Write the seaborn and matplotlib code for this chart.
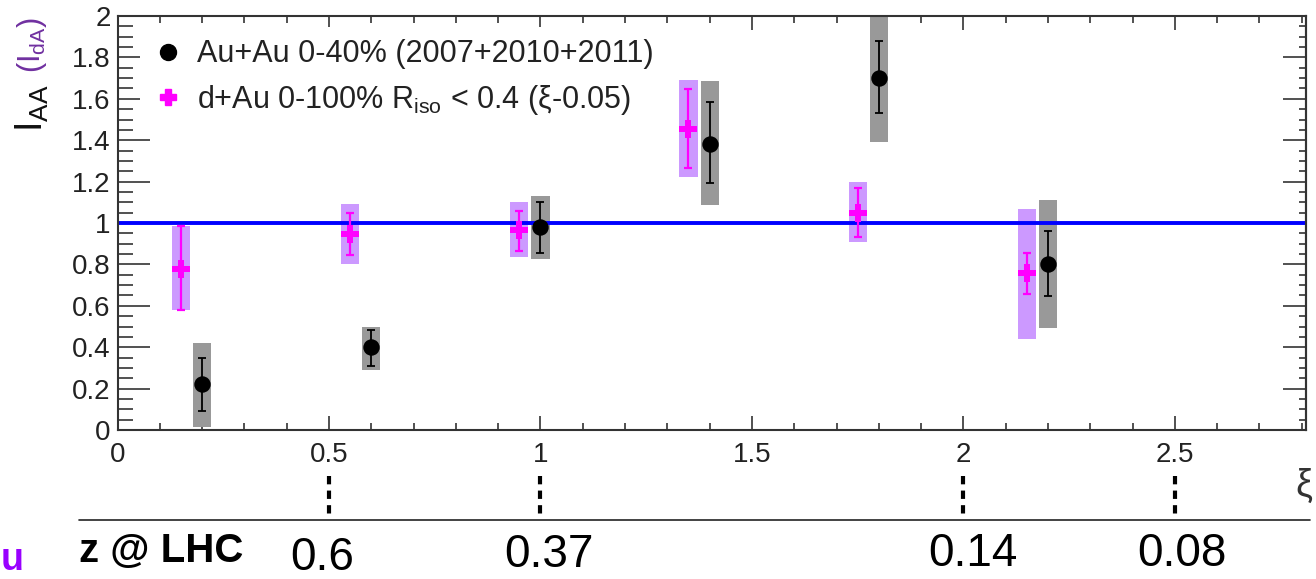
import numpy as np
import pandas as pd
import matplotlib
matplotlib.use("Agg")
import matplotlib.pyplot as plt
import matplotlib.transforms as mtransforms
from matplotlib.lines import Line2D
from matplotlib.ticker import MultipleLocator, FuncFormatter
import seaborn as sns

# ---------------- data ----------------
auau_xi = [0.2, 0.6, 1.0, 1.4, 1.8, 2.2]
auau_iaa = [0.22, 0.40, 0.98, 1.38, 1.70, 0.80]
auau_stat_lo = [0.09, 0.31, 0.854, 1.194, 1.53, 0.645]
auau_stat_hi = [0.35, 0.485, 1.10, 1.583, 1.88, 0.96]
auau_sys_lo = [0.015, 0.29, 0.825, 1.087, 1.39, 0.495]
auau_sys_hi = [0.42, 0.50, 1.13, 1.684, 2.05, 1.11]

dau_xi = [0.15, 0.55, 0.95, 1.35, 1.75, 2.15]
dau_idA = [0.78, 0.945, 0.966, 1.456, 1.05, 0.757]
dau_stat_lo = [0.58, 0.845, 0.864, 1.267, 0.93, 0.655]
dau_stat_hi = [0.985, 1.05, 1.06, 1.646, 1.17, 0.854]
dau_sys_lo = [0.58, 0.80, 0.835, 1.223, 0.907, 0.44]
dau_sys_hi = [0.985, 1.09, 1.10, 1.69, 1.20, 1.07]

ref_level = 1.0

lhc_xi = [0.5, 1.0, 2.0, 2.5]
lhc_z = ["0.6", "0.37", "0.14", "0.08"]

label_auau = "Au+Au 0-40% (2007+2010+2011)"
label_dau = "d+Au 0-100% R$_{\\mathrm{iso}}$ < 0.4 (\u03be-0.05)"

# ---------------- style ----------------
W, H = 1316, 579
sns.set_theme(style="ticks")
plt.rcParams["font.family"] = ["Liberation Sans", "DejaVu Sans"]
plt.rcParams["mathtext.fontset"] = "custom"
plt.rcParams["mathtext.rm"] = "Liberation Sans"
plt.rcParams["mathtext.it"] = "Liberation Sans:italic"
plt.rcParams["mathtext.bf"] = "Liberation Sans:bold"

fig = plt.figure(figsize=(W / 100, H / 100), dpi=100)
ax = fig.add_axes([117.5 / W, 1 - 430 / H, (1306 - 117.5) / W, (430 - 16) / H])

box_w = 0.043
grey_box = "#999999"
mag_box = "#cc99ff"
magenta = "#ff00ff"
axcol = "#333333"

# systematic boxes
ax.bar(auau_xi, np.subtract(auau_sys_hi, auau_sys_lo), bottom=auau_sys_lo,
       width=box_w, color=grey_box, linewidth=0, zorder=1)
ax.bar(dau_xi, np.subtract(dau_sys_hi, dau_sys_lo), bottom=dau_sys_lo,
       width=box_w, color=mag_box, linewidth=0, zorder=1)

# reference line
ax.axhline(ref_level, color="#0000ff", lw=2.8, zorder=2)

# statistical errors
ax.errorbar(auau_xi, auau_iaa,
            yerr=[np.subtract(auau_iaa, auau_stat_lo), np.subtract(auau_stat_hi, auau_iaa)],
            fmt="none", ecolor="black", elinewidth=1.3, capsize=2.6, capthick=1.3, zorder=3)
ax.errorbar(dau_xi, dau_idA,
            yerr=[np.subtract(dau_idA, dau_stat_lo), np.subtract(dau_stat_hi, dau_idA)],
            fmt="none", ecolor=magenta, elinewidth=1.6, capsize=2.6, capthick=1.6, zorder=3)

# markers via seaborn
df_auau = pd.DataFrame({"xi": auau_xi, "val": auau_iaa})
df_dau = pd.DataFrame({"xi": dau_xi, "val": dau_idA})
sns.scatterplot(data=df_auau, x="xi", y="val", marker="o", s=140, color="black",
                linewidth=0, ax=ax, zorder=5, legend=False)
sns.scatterplot(data=df_dau, x="xi", y="val", marker="P", s=150, color=magenta,
                linewidth=0, ax=ax, zorder=5, legend=False)

# axes
ax.set_xlim(0, 2.81)
ax.set_ylim(0, 2)
ax.set_xlabel("")
ax.set_ylabel("")
ax.xaxis.set_major_locator(MultipleLocator(0.5))
ax.xaxis.set_minor_locator(MultipleLocator(0.1))
ax.yaxis.set_major_locator(MultipleLocator(0.2))
ax.yaxis.set_minor_locator(MultipleLocator(0.05))
fmt = FuncFormatter(lambda v, p: f"{v:g}")
ax.xaxis.set_major_formatter(fmt)
ax.yaxis.set_major_formatter(fmt)
for s in ax.spines.values():
    s.set_visible(True)
    s.set_linewidth(1.5)
    s.set_color(axcol)

ax.tick_params(axis="x", which="major", direction="in", length=10, width=1.2,
               top=True, bottom=True, labelsize=20, pad=9, color=axcol, labelcolor="#222222")
ax.tick_params(axis="x", which="minor", direction="in", length=5, width=1.2,
               top=True, bottom=True, color=axcol)
ax.tick_params(axis="y", which="major", direction="in", length=23, width=1.2,
               left=True, right=False, labelsize=20, pad=5, color=axcol, labelcolor="#222222")
ax.tick_params(axis="y", which="minor", direction="in", length=11, width=1.2,
               left=True, right=False, color=axcol)

sec = ax.secondary_yaxis("right")
sec.yaxis.set_major_locator(MultipleLocator(0.2))
sec.yaxis.set_minor_locator(MultipleLocator(0.05))
sec.tick_params(which="major", direction="in", length=16.5, width=1.2, labelright=False, color=axcol)
sec.tick_params(which="minor", direction="in", length=5, width=1.2, color=axcol)
sec.spines["right"].set_linewidth(1.5)
sec.spines["right"].set_color(axcol)

# legend
handles = [Line2D([], [], marker="o", ls="none", color="black", ms=11.5),
           Line2D([], [], marker="P", ls="none", color=magenta, mec=magenta, ms=11)]
leg = ax.legend(handles, [label_auau, label_dau], loc="upper left",
                bbox_to_anchor=(140 / W, 1 - 27 / H), bbox_transform=fig.transFigure,
                fontsize=22, frameon=True, facecolor="white", edgecolor="none",
                framealpha=1, fancybox=False, borderpad=0.4, handlelength=1.0,
                handletextpad=0.45, labelspacing=0.45, borderaxespad=0)
for t in leg.get_texts():
    t.set_color("#222222")

# y label (two colours)
fig.text(32 / W, 1 - 132 / H, "$\\mathrm{I_{AA}}$", rotation=90, ha="center", va="bottom",
         fontsize=27, color="#111111")
fig.text(32 / W, 1 - 17 / H, "($\\mathrm{I_{dA}}$)", rotation=90, ha="center", va="top",
         fontsize=22, color="#7030a0")

# xi label
fig.text(1312 / W, 1 - 486 / H, "\u03be", ha="right", va="center", fontsize=27, color="#333333")

# LHC z correspondence below the axis
trans = mtransforms.blended_transform_factory(ax.transData, fig.transFigure)
for xi in lhc_xi:
    ax.plot([xi, xi], [1 - 476 / H, 1 - 516 / H], transform=trans, ls=(0, (2, 1.5)),
            lw=3, color="black", clip_on=False, solid_capstyle="butt", dash_capstyle="butt")
fig.add_artist(Line2D([79 / W, 1310 / W], [1 - 520 / H, 1 - 520 / H], color="#222222", lw=1.2))

z_dx = [-7, 8, 10, 7]
z_base = [570, 567, 566, 566]
for xi, lab, dx, base in zip(lhc_xi, lhc_z, z_dx, z_base):
    ax.annotate(lab, xy=(xi, 1 - base / H), xycoords=trans, xytext=(dx * 0.72, 0),
                textcoords="offset points", ha="center", va="baseline", fontsize=33,
                color="black", annotation_clip=False)

fig.text(79 / W, 1 - 562 / H, "z @ LHC", ha="left", va="baseline", fontsize=29,
         fontweight="bold", color="black")
fig.text(1 / W, 1 - 570 / H, "u", ha="left", va="baseline", fontsize=27,
         fontweight="bold", color="#9900ff")

fig.savefig("out.png", dpi=100)
